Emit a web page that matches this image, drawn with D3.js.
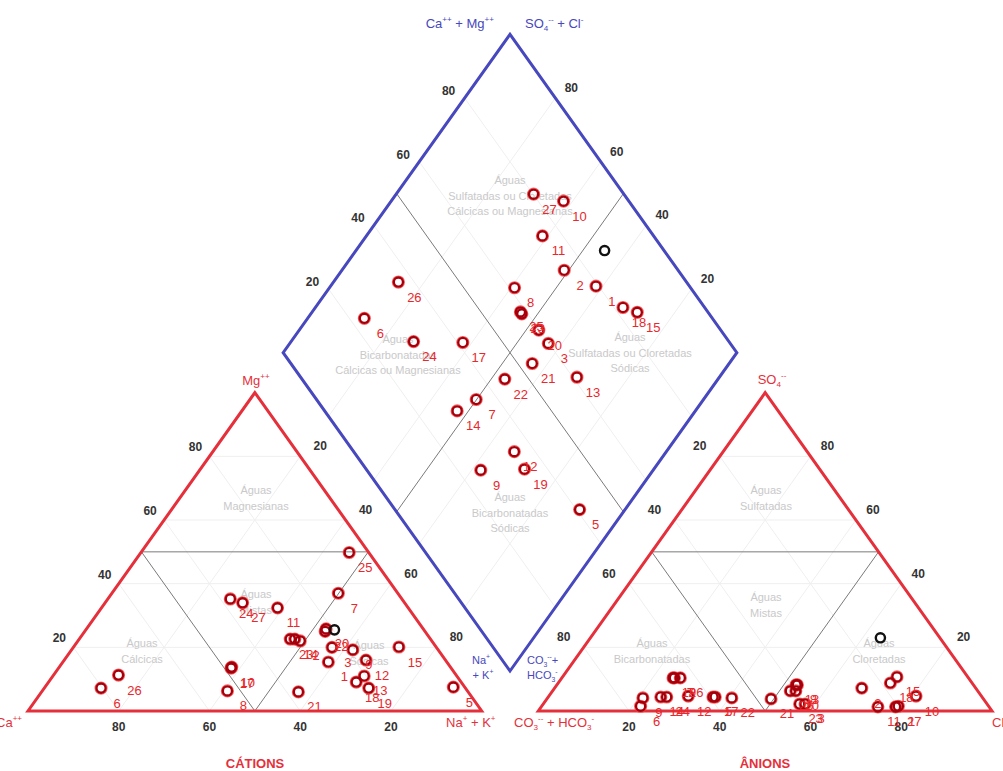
<!DOCTYPE html>
<html><head><meta charset="utf-8">
<script src="https://cdn.jsdelivr.net/npm/d3@7"></script>
<style>
html,body{margin:0;padding:0;background:#fff;}
svg{display:block;font-family:"Liberation Sans",Arial,sans-serif;}
</style></head>
<body><svg id="chart" width="1003" height="771"></svg>
<script>
// ---- Data (percent of meq/L) ----
const sampleIds = ["1","2","3","5","6","7","8","9","10","11","12","13","14","15","17","18","19","20","21","22","23","24","25","26","27",""];
const caPct   = [26.1,29.0,23.0, 2.5,80.3,13.1,52.9,18.8,48.2,28.8,17.5,20.4,29.9, 8.2,48.5,23.1,21.3,21.4,37.4,22.0,30.9,37.8, 4.3,74.4,35.7,19.7];
const mgPct   = [15.4,22.0,20.0, 7.5, 7.2,37.0, 6.3,19.2,13.8,32.4,16.0,11.0,22.6,20.1,13.5, 9.1, 7.2,25.8, 6.0,25.0,22.6,35.2,49.8,11.3,34.0,25.5];
const naKPct  = [58.5,49.0,57.0,90.0,12.5,49.9,40.8,62.0,38.0,38.8,66.5,68.6,47.5,71.7,38.0,67.8,71.5,52.8,56.6,53.0,46.5,27.0,45.9,14.3,30.3,54.8];
const hco3Pct = [20.6,25.1,40.1,59.3,76.7,64.8,38.8,74.9,14.4,24.5,64.6,39.1,70.8,15.6,58.8,18.0,65.1,40.1,46.8,55.3,41.3,69.5,41.3,63.5,19.9,13.1];
const so4Pct  = [ 1.3, 7.2, 2.2, 4.4, 1.5,10.4, 8.2, 4.1, 4.7, 1.3, 4.7, 8.2, 4.4,10.7, 4.4, 8.8,10.4, 6.3, 3.8, 4.1, 2.2, 4.4, 6.3,10.4, 1.5,23.0];
const clPct   = [78.1,67.7,57.7,36.3,21.8,24.8,53.0,21.0,80.9,74.2,30.7,52.7,24.8,73.7,36.8,73.2,24.5,53.6,49.4,40.6,56.5,26.1,52.4,26.1,78.6,63.9];
const tickValues = [20,40,60,80];

// ---- Geometry ----
const W = 453.7, H = 318.3;
const cat = {x0: 28, y0: 711}, ani = {x0: 538.3, y0: 711}, dia = {bx: 510, by: 671};
const sx = d3.scaleLinear().domain([0,100]).range([0,W]);
const sy = d3.scaleLinear().domain([0,100]).range([0,H]);
const catXY = (na, mg) => [cat.x0 + sx(na + mg/2), cat.y0 - sy(mg)];
const aniXY = (cl, s) => [ani.x0 + sx(cl + s/2), ani.y0 - sy(s)];
const diaXY = (na, a) => [dia.bx + sx((a - (100-na))/2), dia.by - sy(a + (100-na))];

const svg = d3.select("#chart");
const RED = "#e5303b", BLUE = "#4747be", GRID = "#efefef", DIV = "#7a7a7a";
const line = (g, p, q, stroke, w) => g.append("line").attr("x1",p[0]).attr("y1",p[1]).attr("x2",q[0]).attr("y2",q[1]).attr("stroke",stroke).attr("stroke-width",w);

const gGrid = svg.append("g");
tickValues.forEach(v => {
  // cation grid
  line(gGrid, catXY(0,v), catXY(100-v,v), GRID, 1);
  line(gGrid, catXY(v,0), catXY(v,100-v), GRID, 1);
  line(gGrid, catXY(100-v,0), catXY(0,100-v), GRID, 1);
  // anion grid
  line(gGrid, aniXY(0,v), aniXY(100-v,v), GRID, 1);
  line(gGrid, aniXY(v,0), aniXY(v,100-v), GRID, 1);
  line(gGrid, aniXY(100-v,0), aniXY(0,100-v), GRID, 1);
  // diamond grid
  line(gGrid, diaXY(0,v), diaXY(100,v), GRID, 1);
  line(gGrid, diaXY(v,0), diaXY(v,100), GRID, 1);
});

// region labels
const gReg = svg.append("g").attr("fill","#c9c9c9").attr("font-size",11).attr("text-anchor","middle");
const regions = [
  [256,490,["Águas","Magnesianas"]],[142,643,["Águas","Cálcicas"]],[256,594,["Águas","Mistas"]],[369,645,["Águas","Sódicas"]],
  [766,490,["Águas","Sulfatadas"]],[766,597,["Águas","Mistas"]],[652,643,["Águas","Bicarbonatadas"]],[879,643,["Águas","Cloretadas"]],
  [510,180,["Águas","Sulfatadas ou Cloretadas","Cálcicas ou Magnesianas"]],
  [398,339,["Águas","Bicarbonatadas","Cálcicas ou Magnesianas"]],
  [630,337,["Águas","Sulfatadas ou Cloretadas","Sódicas"]],
  [510,497,["Águas","Bicarbonatadas","Sódicas"]]
];
regions.forEach(([x,y,ls]) => ls.forEach((t,i) => gReg.append("text").attr("x",x).attr("y",y+i*15.5+4).text(t)));

// division lines
const gDiv = svg.append("g");
line(gDiv, catXY(0,50), catXY(50,50), DIV, 1);
line(gDiv, catXY(0,50), catXY(50,0), DIV, 1);
line(gDiv, catXY(50,0), catXY(50,50), DIV, 1);
line(gDiv, aniXY(0,50), aniXY(50,50), DIV, 1);
line(gDiv, aniXY(0,50), aniXY(50,0), DIV, 1);
line(gDiv, aniXY(50,0), aniXY(50,50), DIV, 1);
line(gDiv, diaXY(50,0), diaXY(50,100), DIV, 1);
line(gDiv, diaXY(0,50), diaXY(100,50), DIV, 1);

// outlines
const poly = (pts, stroke) => svg.append("polygon").attr("points", pts.map(p=>p.join(",")).join(" "))
  .attr("fill","none").attr("stroke",stroke).attr("stroke-width",3).attr("stroke-linejoin","miter");
poly([catXY(0,0), catXY(100,0), catXY(0,100)], RED);
poly([aniXY(0,0), aniXY(100,0), aniXY(0,100)], RED);
poly([diaXY(100,0), diaXY(100,100), diaXY(0,100), diaXY(0,0)], BLUE);

// tick labels
const gTick = svg.append("g").attr("font-size",12).attr("font-weight","bold").attr("fill","#333")
  .attr("text-anchor","middle").attr("dominant-baseline","central");
const tick = (p, dx, dy, v) => gTick.append("text").attr("x",p[0]+dx).attr("y",p[1]+dy).text(v);
tickValues.forEach(v => {
  tick(catXY(100-v,0), 0, 16, v);          // Ca
  tick(catXY(0,v), -14, -9, v);            // Mg
  tick(catXY(v,100-v), 20, -10, v);        // Na+K
  tick(aniXY(v,0), 0, 16, v);              // Cl
  tick(aniXY(0,100-v), -20, -10, v);       // CO3+HCO3
  tick(aniXY(100-v,v), 17, -10, v);        // SO4
  tick(diaXY(0,v), -16, -7, v);            // diamond upper-left
  tick(diaXY(100-v,100), 16, -10, v);      // diamond upper-right
});

// axis / vertex labels with super/subscripts
function rich(x, y, parts, opts) {
  const t = svg.append("text").attr("x",x).attr("y",y).attr("fill",opts.color)
    .attr("font-size",opts.size).attr("text-anchor",opts.anchor||"start");
  let shift = 0;
  parts.forEach(p => {
    const target = p[1] === "sup" ? -opts.size*0.45 : p[1] === "sub" ? opts.size*0.25 : 0;
    t.append("tspan").attr("dy", target - shift).attr("font-size", p[1] ? opts.size*0.62 : opts.size).text(p[0]);
    shift = target;
  });
}
rich(256,385,[["Mg"],["++","sup"]],{color:RED,size:13,anchor:"middle"});
rich(-4,727,[["Ca"],["++","sup"]],{color:RED,size:13});
rich(446,727,[["Na"],["+","sup"],[" + K"],["+","sup"]],{color:RED,size:13});
rich(772,384,[["SO"],["4","sub"],["--","sup"]],{color:RED,size:13,anchor:"middle"});
rich(514,727,[["CO"],["3","sub"],["--","sup"],[" + HCO"],["3","sub"],["-","sup"]],{color:RED,size:13});
rich(992,727,[["Cl"],["-","sup"]],{color:RED,size:13});
rich(494,28,[["Ca"],["++","sup"],[" + Mg"],["++","sup"]],{color:BLUE,size:13,anchor:"end"});
rich(525,28,[["SO"],["4","sub"],["--","sup"],[" + Cl"],["-","sup"]],{color:BLUE,size:13});
rich(481,664,[["Na"],["+","sup"]],{color:BLUE,size:11,anchor:"middle"});
rich(483,679,[["+ K"],["+","sup"]],{color:BLUE,size:11,anchor:"middle"});
rich(527,664,[["CO"],["3","sub"],["--","sup"],["+"]],{color:BLUE,size:11});
rich(527,679,[["HCO"],["3","sub"],["-","sup"]],{color:BLUE,size:11});

svg.append("text").attr("x",255).attr("y",768).attr("text-anchor","middle").attr("fill",RED)
  .attr("font-size",13).attr("font-weight","bold").text("CÁTIONS");
svg.append("text").attr("x",765).attr("y",768).attr("text-anchor","middle").attr("fill",RED)
  .attr("font-size",13).attr("font-weight","bold").text("ÂNIONS");

// ---- points ----
const samples = sampleIds.map((id,i) => ({id, ca:caPct[i], mg:mgPct[i], na:naKPct[i], hco3:hco3Pct[i], so4:so4Pct[i], cl:clPct[i]}));
const positions = [];
samples.forEach(s => {
  const a = s.so4 + s.cl;
  [catXY(s.na, s.mg), aniXY(s.cl, s.so4), diaXY(s.na, a)].forEach(p => positions.push({id:s.id, p}));
});
const gPts = svg.append("g");
gPts.selectAll("circle.halo").data(positions).join("circle").attr("class","halo")
  .attr("cx",d=>d.p[0]).attr("cy",d=>d.p[1]).attr("r",6).attr("fill","none")
  .attr("stroke",d=>d.id===""?"none":"#ff3b3b").attr("stroke-width",1.2).attr("opacity",0.8);
gPts.selectAll("circle.pt").data(positions).join("circle").attr("class","pt")
  .attr("cx",d=>d.p[0]).attr("cy",d=>d.p[1]).attr("r",4.6).attr("fill","none")
  .attr("stroke",d=>d.id===""?"#111":"#a4000c").attr("stroke-width",2.4);
gPts.selectAll("text").data(positions.filter(d=>d.id!=="")).join("text")
  .attr("x",d=>d.p[0]+16).attr("y",d=>d.p[1]+15).attr("text-anchor","middle").attr("dominant-baseline","central")
  .attr("font-size",13).attr("fill","#e8282c").text(d=>d.id);
</script></body></html>
